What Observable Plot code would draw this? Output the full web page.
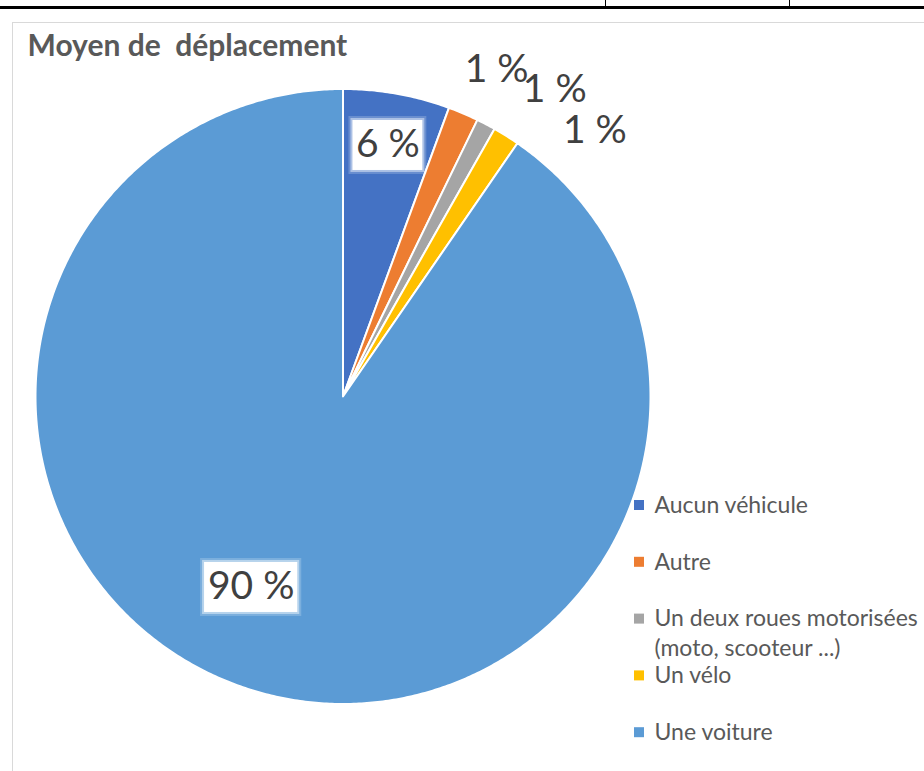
<!DOCTYPE html>
<html>
<head>
<meta charset="utf-8">
<script src="https://cdn.jsdelivr.net/npm/d3@7"></script>
<script src="https://cdn.jsdelivr.net/npm/@observablehq/plot@0.6"></script>
<style>
  html, body { margin: 0; padding: 0; background: #fff; overflow: hidden; }
  #wrap { position: relative; width: 924px; height: 771px; overflow: hidden; }
  #chart { position: absolute; left: 0; top: 0; }
  .deco { position: absolute; background: #000; }
  .frame { position: absolute; background: #d9d9d9; }
</style>
</head>
<body>
<div id="wrap">
  <div id="chart"></div>
  <div class="deco" style="left:0;top:6px;width:924px;height:3px;"></div>
  <div class="deco" style="left:605px;top:0;width:1px;height:7px;"></div>
  <div class="deco" style="left:789px;top:0;width:1px;height:7px;"></div>
  <div class="frame" style="left:12px;top:22px;width:912px;height:1px;"></div>
  <div class="frame" style="left:12px;top:22px;width:1px;height:749px;"></div>
</div>
<script>
// ---- data ----
const categories = ["Aucun véhicule", "Autre", "Un deux roues motorisées (moto, scooteur ...)", "Un vélo", "Une voiture"];
const shares = [5.6, 1.6, 1.0, 1.4, 90.4];
const pctLabels = ["6 %", "1 %", "1 %", "1 %", "90 %"];
const colors = ["#4472C4", "#ED7D31", "#A5A5A5", "#FFC000", "#5B9BD5"];
const legendLines = [["Aucun véhicule"], ["Autre"], ["Un deux roues motorisées", "(moto, scooteur ...)"], ["Un vélo"], ["Une voiture"]];
const title = "Moyen de  déplacement";

// ---- layout ----
const W = 924, H = 771;
const cx = 342.5, cy = 396, R = 307.5;
const labelAngle = [10.1, 25.2, 34.6, 43.5, 205.8];   // degrees clockwise from top
const labelDist = [256, 361, 373, 366, 211];          // px from center
const labelBoxed = [true, false, false, false, true];
const legendX = 634, legendY0 = 505, legendStep = 56.8, legendLineH = 30;

// ---- geometry via d3.pie ----
const arcs = d3.pie().sort(null).value(d => d.v)(categories.map((c, i) => ({c, v: shares[i]})));
const pts = [];
arcs.forEach(a => {
  pts.push({cat: a.data.c, x: cx, y: cy});
  const n = Math.max(4, Math.ceil((a.endAngle - a.startAngle) / (Math.PI / 360)));
  for (let k = 0; k <= n; k++) {
    const t = a.startAngle + (a.endAngle - a.startAngle) * k / n;
    pts.push({cat: a.data.c, x: cx + R * Math.sin(t), y: cy - R * Math.cos(t)});
  }
});

const labels = pctLabels.map((t, i) => {
  const a = labelAngle[i] * Math.PI / 180;
  return {text: t, x: cx + labelDist[i] * Math.sin(a), y: cy - labelDist[i] * Math.cos(a), boxed: labelBoxed[i]};
});
const boxes = labels.filter(d => d.boxed).map(d => {
  const w = d.text.length * 23.3, h = 50;
  return {x1: d.x - w / 2, x2: d.x + w / 2, y1: d.y - h / 2 + 1, y2: d.y + h / 2 + 1};
});

const swatches = categories.map((c, i) => ({cat: c, x1: legendX, x2: legendX + 10, y1: legendY0 + i * legendStep - 5, y2: legendY0 + i * legendStep + 5}));
const legendText = [];
legendLines.forEach((lines, i) => lines.forEach((t, j) => legendText.push({text: t, y: legendY0 + i * legendStep + j * legendLineH})));

const plot = Plot.plot({
  width: W, height: H,
  margin: 0,
  x: {domain: [0, W], range: [0, W], axis: null},
  y: {domain: [0, H], range: [0, H], axis: null},
  color: {type: "ordinal", domain: categories, range: colors},
  style: {fontFamily: "Lato, 'Open Sans', sans-serif", background: "transparent"},
  marks: [
    Plot.line(pts, {x: "x", y: "y", z: "cat", fill: "cat", stroke: "white", strokeWidth: 2, strokeLinejoin: "round", curve: "linear-closed"}),
    Plot.rect(boxes, {x1: d => d.x1 - 4, x2: d => d.x2 + 4, y1: d => d.y1 - 4, y2: d => d.y2 + 4, fill: "white", fillOpacity: 0.2}),
    Plot.rect(boxes, {x1: d => d.x1 - 2, x2: d => d.x2 + 2, y1: d => d.y1 - 2, y2: d => d.y2 + 2, fill: "white", fillOpacity: 0.45}),
    Plot.rect(boxes, {x1: "x1", x2: "x2", y1: "y1", y2: "y2", fill: "white"}),
    Plot.text(labels, {x: "x", y: "y", text: "text", fontSize: 39, fill: "#404040", textAnchor: "middle", lineAnchor: "middle"}),
    Plot.text([title], {x: 27, y: 45.5, text: d => d, fontSize: 30, fontWeight: "bold", fill: "#595959", textAnchor: "start", lineAnchor: "middle"}),
    Plot.rect(swatches, {x1: "x1", x2: "x2", y1: "y1", y2: "y2", fill: "cat"}),
    Plot.text(legendText, {x: legendX + 20, y: "y", text: "text", fontSize: 23, fill: "#595959", textAnchor: "start", lineAnchor: "middle"})
  ]
});
document.getElementById("chart").appendChild(plot);
</script>
</body>
</html>
